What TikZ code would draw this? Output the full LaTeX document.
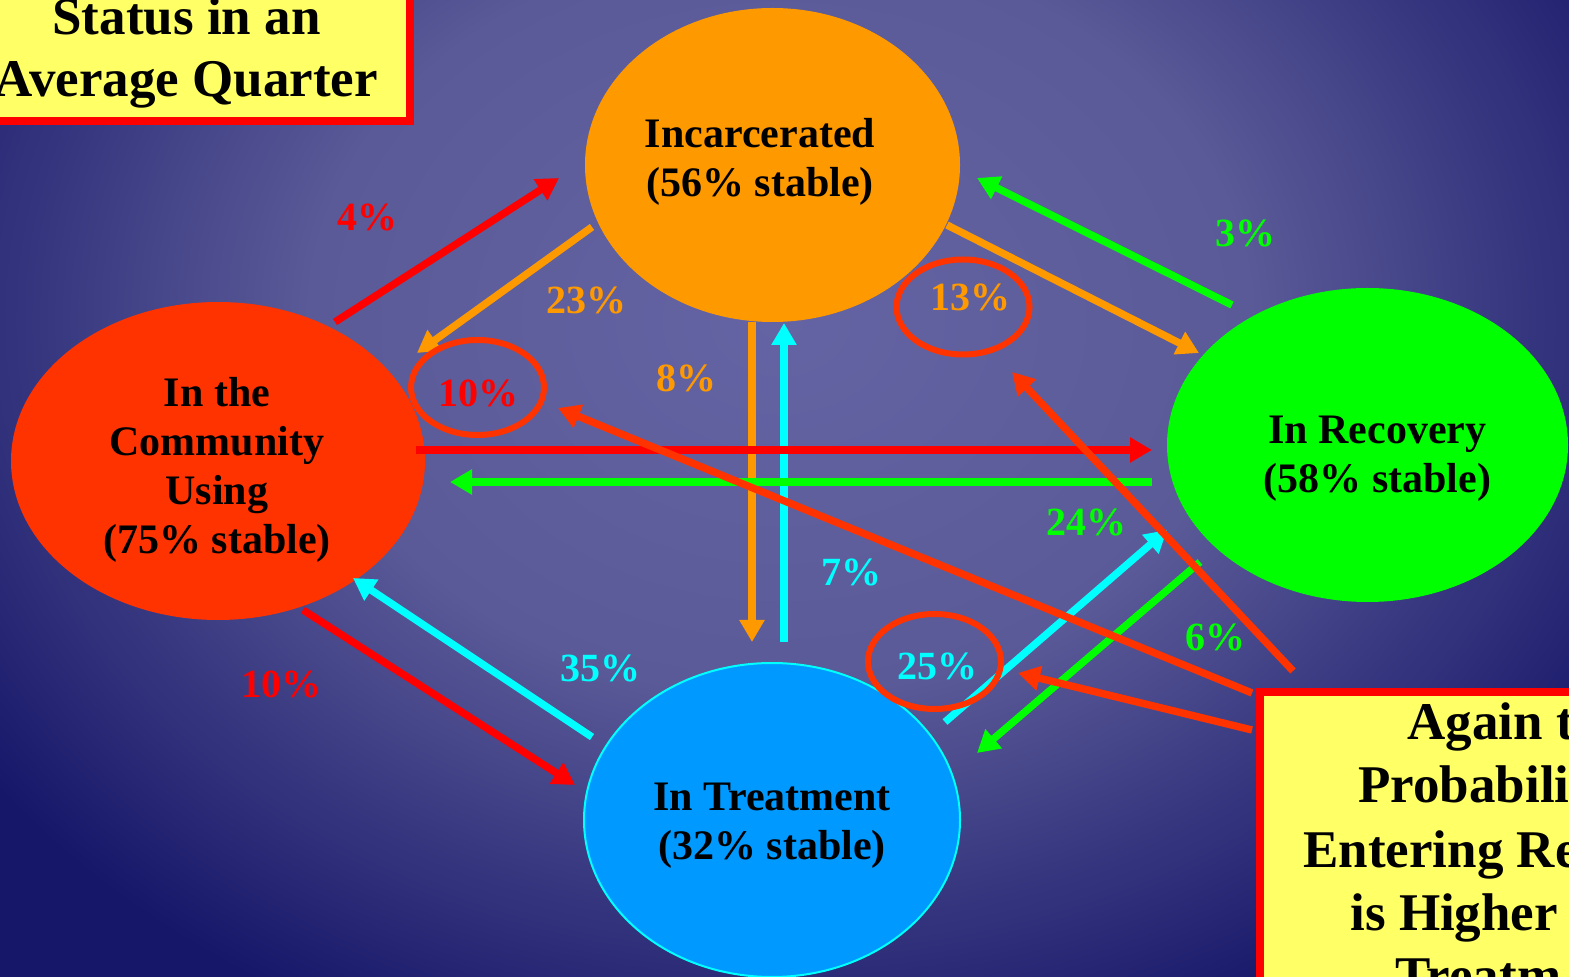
\documentclass[tikz,border=0pt]{standalone}
\usepackage{fontspec}
\setmainfont{Liberation Serif}
\usetikzlibrary{arrows.meta,shapes.geometric,calc}
\definecolor{bgin}{HTML}{6464A4}
\definecolor{bgmid}{HTML}{5A5A98}
\definecolor{bgout}{HTML}{17176A}
\definecolor{incO}{HTML}{FF9900}
\definecolor{comR}{HTML}{FF3300}
\definecolor{recG}{HTML}{00FF00}
\definecolor{trtB}{HTML}{0099FF}
\definecolor{cyanA}{HTML}{00FFFF}
\definecolor{redA}{HTML}{FF0000}
\definecolor{noteY}{HTML}{FFFF66}
\definecolor{hl}{HTML}{FF3300}
\pgfdeclareradialshading{bgshade}{\pgfpointorigin}{color(0bp)=(bgin); color(12bp)=(bgmid); color(25bp)=(bgout); color(50bp)=(bgout)}
\tikzset{
  ell/.style={ellipse, inner sep=0pt, outer sep=0pt},
  elltext/.style={inner sep=0pt, align=center, text=black,
    font=\fontsize{21}{24.5}\selectfont\bfseries},
  arr/.style={line width=3.7pt, -{Triangle[length=11pt,width=12pt]}},
  hlarr/.style={arr, draw=hl},
  ring/.style={ellipse, draw=hl, line width=3pt, inner sep=0pt, outer sep=0pt,
    minimum width=66.5pt, minimum height=47.5pt},
  lab/.style={inner sep=0pt, font=\fontsize{20}{24}\selectfont\bfseries},
  box/.style={rectangle, fill=noteY, draw=redA, line width=4pt, inner sep=0pt, outer sep=0pt},
  notetext/.style={inner sep=0pt, text=black, font=\fontsize{26.5}{31}\selectfont\bfseries}
}
\begin{document}
\begin{tikzpicture}[x=0.5pt,y=-0.5pt]
\useasboundingbox (0,0) rectangle (1569,977);
\clip (0,0) rectangle (1569,977);
\shade[shading=bgshade] (-200,-460) rectangle (1760,1100);

% states
\node[ell, fill=incO, minimum width=187.5pt, minimum height=157pt,
  label={[elltext, xshift=-6.25pt, yshift=1.5pt]center:{Incarcerated\\(56\% stable)}}] (inc) at (772.5,165) {};
\node[ell, fill=comR, minimum width=207pt, minimum height=159pt,
  label={[elltext, xshift=-0.5pt, yshift=-4.25pt]center:{In the\\Community\\Using\\(75\% stable)}}] (com) at (218,461) {};
\node[ell, fill=recG, minimum width=200.5pt, minimum height=157pt,
  label={[elltext, xshift=5pt, yshift=-6.75pt]center:{In Recovery\\(58\% stable)}}] (rec) at (1367.5,445) {};
\node[ell, fill=trtB, draw=cyanA, line width=1pt, minimum width=188pt, minimum height=157pt,
  label={[elltext, yshift=-3pt]center:{In Treatment\\(32\% stable)}}] (trt) at (772,820) {};

% transitions
\draw[arr, redA] ($(com)+(117,-139)$) -- ($(inc)+(-213.5,13)$);
\draw[arr, incO] ($(inc)+(-180.5,62)$) -- ($(com)+(199,-108)$);
\draw[arr, incO] ($(inc)+(-20.5,157)$) -- ($(trt)+(-20,-178)$);
\draw[arr, cyanA] ($(trt)+(12,-178)$) -- ($(inc)+(11.5,158)$);
\draw[arr, incO] ($(inc)+(174.5,60)$) -- ($(rec)+(-168.5,-92)$);
\draw[arr, recG] ($(rec)+(-135.5,-140)$) -- ($(inc)+(204.5,13)$);
\draw[arr, redA] ($(com)+(198,-11)$) -- ($(rec)+(-215.5,5)$);
\draw[arr, recG] ($(rec)+(-215.5,37)$) -- ($(com)+(232,21)$);
\draw[arr, redA] ($(com)+(85,149)$) -- ($(trt)+(-197,-35)$);
\draw[arr, cyanA] ($(trt)+(-180,-83)$) -- ($(com)+(135,117)$);
\draw[arr, cyanA] ($(trt)+(173,-98)$) -- ($(rec)+(-200.5,85)$);
\draw[arr, recG] ($(rec)+(-167.5,117)$) -- ($(trt)+(205,-67)$);

% highlight rings
\node[ring] (c10) at (477.5,387.5) {};
\node[ring] (c13) at (963,307) {};
\node[ring] (c25) at (934.5,661.5) {};

% percentages
\node[lab, text=redA] (p4) at (367,217) {4\%};
\node[lab, text=incO] (p23) at (586,300) {23\%};
\node[lab, text=redA] (p10a) at (478,393) {10\%};
\node[lab, text=incO] (p8) at (686,378) {8\%};
\node[lab, text=incO] (p13) at (970,297) {13\%};
\node[lab, text=recG] (p3) at (1245,233) {3\%};
\node[lab, text=recG] (p24) at (1086,522) {24\%};
\node[lab, text=cyanA] (p7) at (851,572) {7\%};
\node[lab, text=recG] (p6) at (1215,637) {6\%};
\node[lab, text=cyanA] (p35) at (600,668) {35\%};
\node[lab, text=cyanA] (p25) at (937,666) {25\%};
\node[lab, text=redA] (p10b) at (281,684) {10\%};

% title box
\node[box, notetext, align=center, minimum width=223.5pt, minimum height=68.5pt] (title) at (186.5,52.5) {Status in an\\Average Quarter};

% note box
\node[box, anchor=north west, minimum width=300pt, minimum height=250pt] (note) at (1260,692) {};
\node[notetext, anchor=base west] (n1) at (1407,740) {Again t};
\node[notetext, anchor=base west] (n2) at (1358,803) {Probabili};
\node[notetext, anchor=base west] (n3) at (1303,867) {Entering Re};
\node[notetext, anchor=base west] (n4) at (1350,930) {is Higher};
\node[notetext, anchor=base west] (n5) at (1395,993) {Treatm};

% annotation arrows
\draw[hlarr] ($(note.north west)+(-8,1)$) -- ($(c10)+(80.5,20.5)$);
\draw[hlarr] ($(note.north west)+(33,-21)$) -- ($(c13)+(49,65)$);
\draw[hlarr] ($(note.north west)+(-8,38)$) -- ($(c25)+(83.5,11.5)$);
\end{tikzpicture}
\end{document}
